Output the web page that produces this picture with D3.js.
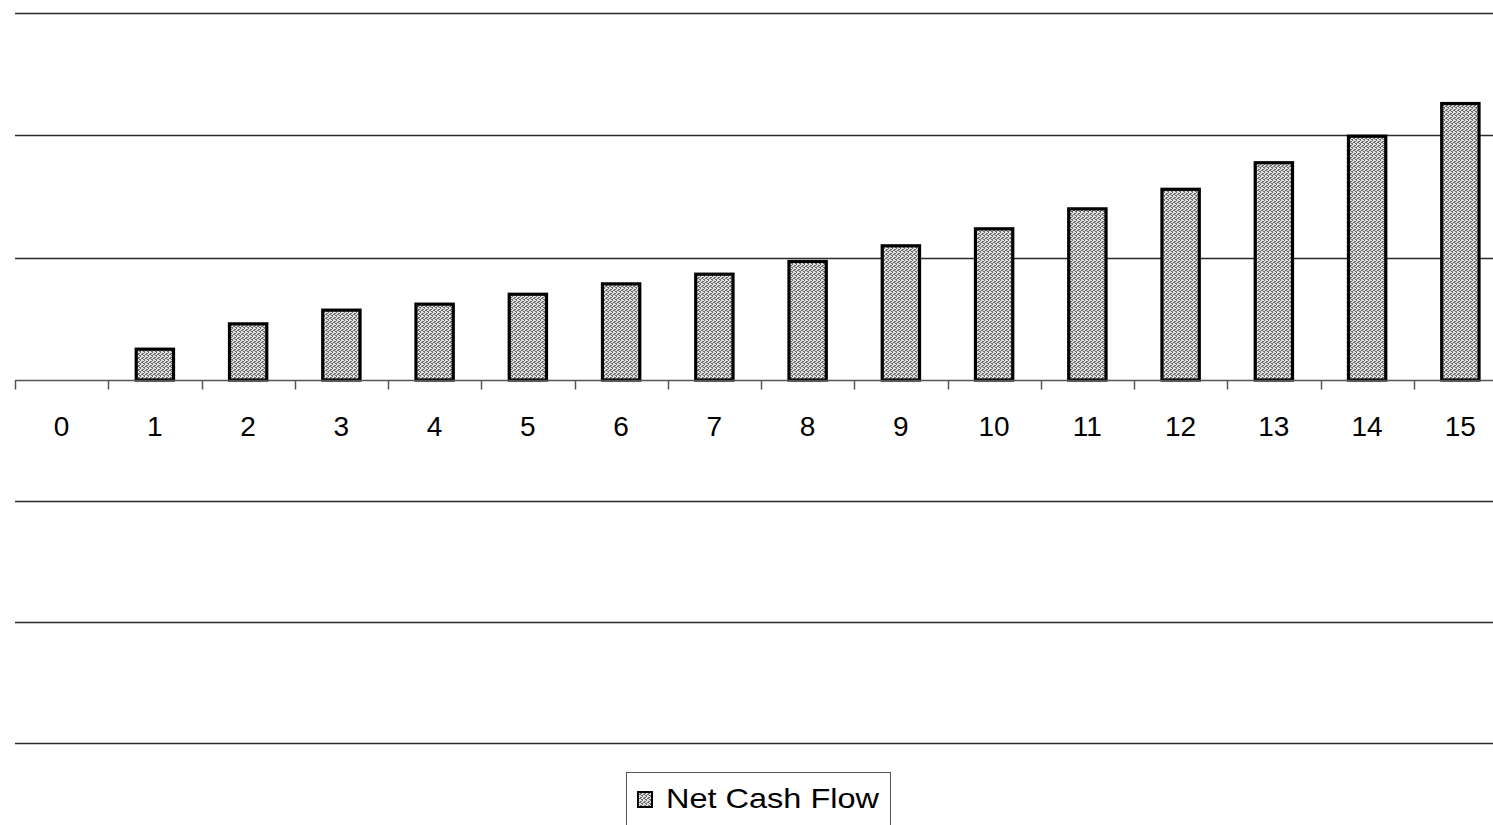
<!DOCTYPE html>
<html>
<head>
<meta charset="utf-8">
<script src="https://cdn.jsdelivr.net/npm/d3@7"></script>
<style>
  html, body { margin: 0; padding: 0; background: #fff; }
  svg { display: block; }
  text { font-family: "Liberation Sans", Arial, sans-serif; }
</style>
</head>
<body>
<svg id="chart" width="1493" height="825"></svg>
<script>
// Net cash flow by year (in $ thousands)
const years = ["0","1","2","3","4","5","6","7","8","9","10","11","12","13","14","15"];
const netCashFlow = [0, 25.2, 45.9, 57.1, 62.0, 70.1, 78.6, 86.5, 96.9, 109.7, 123.6, 139.9, 155.9, 177.6, 199.3, 226.0];
const gridValues = [-300, -200, -100, 0, 100, 200, 300];
const seriesName = "Net Cash Flow";

const svg = d3.select("#chart");
const W = 1493, H = 825;

const x = d3.scaleBand().domain(years).range([15, 1507]).paddingInner(0).paddingOuter(0);
const y = d3.scaleLinear().domain([-300, 0, 300]).range([743, 380, 13]);

// dotted grey fill used by the bars and legend swatch
const defs = svg.append("defs");
const pat = defs.append("pattern")
  .attr("id", "dots").attr("patternUnits", "userSpaceOnUse")
  .attr("width", 4).attr("height", 4);
pat.append("rect").attr("width", 4).attr("height", 4).attr("fill", "#e0e0e0");
[[0,0],[2,1],[1,2],[3,3],[3,1],[0,3],[2,2]].forEach(([px, py]) => {
  pat.append("rect").attr("x", px).attr("y", py).attr("width", 1).attr("height", 1).attr("fill", "#6e6e6e");
});

// horizontal gridlines
svg.append("g").selectAll("line")
  .data(gridValues.filter(v => v !== 0))
  .join("line")
  .attr("x1", 15).attr("x2", W)
  .attr("y1", d => Math.round(y(d)) + 0.5).attr("y2", d => Math.round(y(d)) + 0.5)
  .attr("stroke", "#2a2a2a").attr("stroke-width", 1.7);

// bars
const barW = x.bandwidth() / 2.5;
svg.append("g").selectAll("rect")
  .data(years.map((yr, i) => ({ yr, v: netCashFlow[i] })).filter(d => d.v !== 0))
  .join("rect")
  .attr("x", d => x(d.yr) + (x.bandwidth() - barW) / 2)
  .attr("width", barW)
  .attr("y", d => y(d.v))
  .attr("height", d => y(0) - y(d.v))
  .attr("fill", "url(#dots)")
  .attr("stroke", "#000").attr("stroke-width", 3.2);

// category axis at zero
const ax = svg.append("g").attr("transform", `translate(0,${Math.round(y(0)) + 0.5})`);
ax.append("line").attr("x1", 15).attr("x2", W).attr("stroke", "#555").attr("stroke-width", 1.5);
ax.selectAll("line.tk")
  .data(d3.range(years.length))
  .join("line").attr("class", "tk")
  .attr("x1", i => Math.round(x(years[i])) + 0.5).attr("x2", i => Math.round(x(years[i])) + 0.5)
  .attr("y1", 0).attr("y2", 9)
  .attr("stroke", "#555").attr("stroke-width", 1.5);
ax.selectAll("text.lbl")
  .data(years)
  .join("text").attr("class", "lbl")
  .attr("x", d => x(d) + x.bandwidth() / 2)
  .attr("y", 55)
  .attr("text-anchor", "middle")
  .attr("font-size", 28)
  .attr("fill", "#000")
  .text(d => d);

// legend
const lg = svg.append("g").attr("transform", "translate(626,772)");
lg.append("rect").attr("x", 0.5).attr("y", 0.5).attr("width", 264).attr("height", 70)
  .attr("fill", "#fff").attr("stroke", "#555").attr("stroke-width", 1);
lg.append("rect").attr("x", 12).attr("y", 20).attr("width", 14).attr("height", 15)
  .attr("fill", "url(#dots)").attr("stroke", "#000").attr("stroke-width", 2);
lg.append("text").attr("x", 40).attr("y", 36).attr("font-size", 28).attr("fill", "#000")
  .attr("textLength", 213).attr("lengthAdjust", "spacingAndGlyphs")
  .text(seriesName);
</script>
</body>
</html>
